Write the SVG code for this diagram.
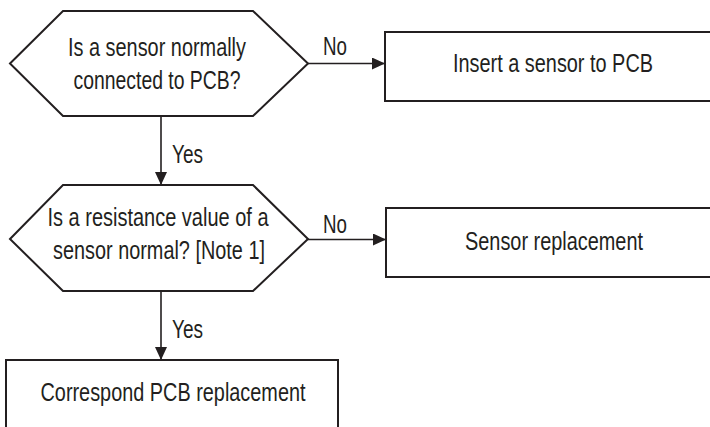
<svg xmlns="http://www.w3.org/2000/svg" width="710" height="427" viewBox="0 0 710 427">
<style>
.shape{fill:#fff;stroke:#231f20;stroke-width:2}
.line{fill:none;stroke:#231f20;stroke-width:1.6}
text{font-family:"Liberation Sans",Arial,Helvetica,sans-serif;font-size:26px;fill:#231f20;text-anchor:middle}
</style>
<defs>
<marker id="arr" markerWidth="13" markerHeight="12" refX="13" refY="6" orient="auto" markerUnits="userSpaceOnUse">
<path d="M0,0 L13,6 L0,12 Z" fill="#231f20"/>
</marker>
</defs>
<rect width="710" height="427" fill="#fff"/>
<g id="connectors">
<line class="line" x1="308" y1="63.5" x2="385" y2="63.5" marker-end="url(#arr)"/>
<text x="335" y="55" textLength="24" lengthAdjust="spacingAndGlyphs">No</text>
<line class="line" x1="161" y1="116" x2="161" y2="185" marker-end="url(#arr)"/>
<text x="187.5" y="163" textLength="31" lengthAdjust="spacingAndGlyphs">Yes</text>
<line class="line" x1="308" y1="239.5" x2="386" y2="239.5" marker-end="url(#arr)"/>
<text x="335" y="233" textLength="24" lengthAdjust="spacingAndGlyphs">No</text>
<line class="line" x1="161" y1="291" x2="161" y2="360" marker-end="url(#arr)"/>
<text x="187.5" y="338" textLength="31" lengthAdjust="spacingAndGlyphs">Yes</text>
</g>
<g id="decision1">
<polygon class="shape" points="10,63.5 63,11 253,11 308,63.5 253,116 63,116"/>
<text x="157" y="56" textLength="178" lengthAdjust="spacingAndGlyphs">Is a sensor normally</text>
<text x="157" y="89" textLength="167" lengthAdjust="spacingAndGlyphs">connected to PCB?</text>
</g>
<g id="insert">
<rect class="shape" x="385" y="32" width="335" height="69"/>
<text x="553" y="72" textLength="200" lengthAdjust="spacingAndGlyphs">Insert a sensor to PCB</text>
</g>
<g id="decision2">
<polygon class="shape" points="10,239 63,185 253,185 308,239 253,291 63,291"/>
<text x="158" y="226" textLength="221" lengthAdjust="spacingAndGlyphs">Is a resistance value of a</text>
<text x="159" y="259" textLength="212" lengthAdjust="spacingAndGlyphs">sensor normal? [Note 1]</text>
</g>
<g id="sensor-replacement">
<rect class="shape" x="386" y="208" width="334" height="69"/>
<text x="554" y="250" textLength="178" lengthAdjust="spacingAndGlyphs">Sensor replacement</text>
</g>
<g id="pcb-replacement">
<rect class="shape" x="6" y="360" width="332" height="80"/>
<text x="173" y="401" textLength="265" lengthAdjust="spacingAndGlyphs">Correspond PCB replacement</text>
</g>
</svg>
